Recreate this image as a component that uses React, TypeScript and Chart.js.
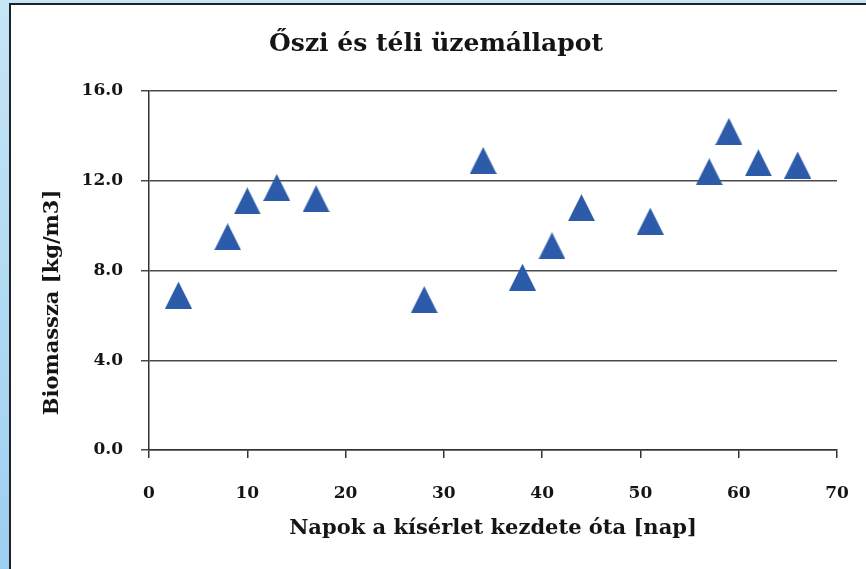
import React, { useEffect, useRef } from "react";
import { Chart, registerables } from "chart.js";

Chart.register(...registerables);

const chartTitle = "Őszi és téli üzemállapot";
const xAxisTitle = "Napok a kísérlet kezdete óta [nap]";
const yAxisTitle = "Biomassza [kg/m3]";

const days = [3, 8, 10, 13, 17, 28, 34, 38, 41, 44, 51, 57, 59, 62, 66];
const biomass = [6.9, 9.5, 11.1, 11.7, 11.2, 6.7, 12.9, 7.7, 9.1, 10.8, 10.2, 12.4, 14.2, 12.8, 12.7];

const xMin = 0;
const xMax = 70;
const xStep = 10;
const yMin = 0;
const yMax = 16;
const yStep = 4;

const FONT = "'DejaVu Serif', serif";
const TEXT = "#151515";
const MARK = "#2B5BA9";

function makeTriangle(): HTMLCanvasElement {
  const c = document.createElement("canvas");
  const w = 27;
  const h = 27;
  c.width = w;
  c.height = h;
  const ctx = c.getContext("2d")!;
  ctx.fillStyle = MARK;
  ctx.beginPath();
  ctx.moveTo(w / 2, 0);
  ctx.lineTo(w, h);
  ctx.lineTo(0, h);
  ctx.closePath();
  ctx.fill();
  return c;
}

const textPlugin = {
  id: "textPlugin",
  afterDraw(chart: any) {
    const ctx = chart.ctx;
    const area = chart.chartArea;
    ctx.save();
    ctx.fillStyle = TEXT;
    ctx.textAlign = "center";
    ctx.textBaseline = "middle";
    ctx.font = `bold 25px ${FONT}`;
    ctx.fillText(chartTitle, 436, 44);
    ctx.translate(53, (area.top + area.bottom) / 2 + 32);
    ctx.rotate(-Math.PI / 2);
    ctx.font = `bold 21px ${FONT}`;
    ctx.fillText(yAxisTitle, 0, 0);
    ctx.restore();
  },
};

export default function App() {
  const ref = useRef<HTMLCanvasElement | null>(null);

  useEffect(() => {
    if (!ref.current) return;
    const tri = makeTriangle();
    const chart = new Chart(ref.current, {
      type: "scatter",
      data: {
        datasets: [
          {
            data: days.map((d, i) => ({ x: d, y: biomass[i] })),
            pointStyle: tri as any,
            backgroundColor: MARK,
            borderColor: MARK,
          },
        ],
      },
      options: {
        animation: false,
        responsive: false,
        layout: { padding: { left: 0, right: 29, top: 91, bottom: 0 } },
        plugins: {
          legend: { display: false },
          tooltip: { enabled: false },
          title: { display: false },
        },
        scales: {
          x: {
            type: "linear",
            min: xMin,
            max: xMax,
            afterFit(scale: any) {
              scale.height = 119;
              scale.paddingRight = 0;
              scale.paddingLeft = 0;
            },
            ticks: {
              stepSize: xStep,
              color: TEXT,
              padding: 25,
              font: { family: FONT, size: 17, weight: "bold" },
            },
            grid: {
              drawOnChartArea: false,
              drawTicks: true,
              tickLength: 8,
              color: "#333",
              lineWidth: 1.5,
            },
            border: { display: true, color: "#333", width: 1.5 },
            title: {
              display: true,
              text: xAxisTitle,
              color: TEXT,
              font: { family: FONT, size: 21, weight: "bold" },
              padding: { top: 0, bottom: 28 },
            },
          },
          y: {
            type: "linear",
            min: yMin,
            max: yMax,
            afterFit(scale: any) {
              scale.width = 149;
            },
            ticks: {
              stepSize: yStep,
              color: TEXT,
              padding: 18,
              font: { family: FONT, size: 17, weight: "bold" },
              callback: (v: any) => Number(v).toFixed(1),
            },
            grid: {
              drawTicks: true,
              tickLength: 8,
              color: "#4a4a4a",
              lineWidth: 1.5,
            },
            border: { display: true, color: "#333", width: 1.5 },
          },
        },
      },
      plugins: [textPlugin],
    });
    return () => chart.destroy();
  }, []);

  return (
    <div
      style={{
        position: "fixed",
        left: 0,
        top: 0,
        width: 866,
        height: 569,
        background: "linear-gradient(to bottom, #c6e5f6, #9dcff0)",
        overflow: "hidden",
      }}
    >
      <div
        style={{
          position: "absolute",
          left: 9,
          top: 3,
          width: 857,
          height: 566,
          background: "#ffffff",
          borderLeft: "2px solid #1d2328",
          borderTop: "2px solid #1d2328",
          boxSizing: "border-box",
        }}
      />
      <canvas
        ref={ref}
        width={866}
        height={569}
        style={{ position: "absolute", left: 0, top: 0, width: 866, height: 569 }}
      />
    </div>
  );
}
